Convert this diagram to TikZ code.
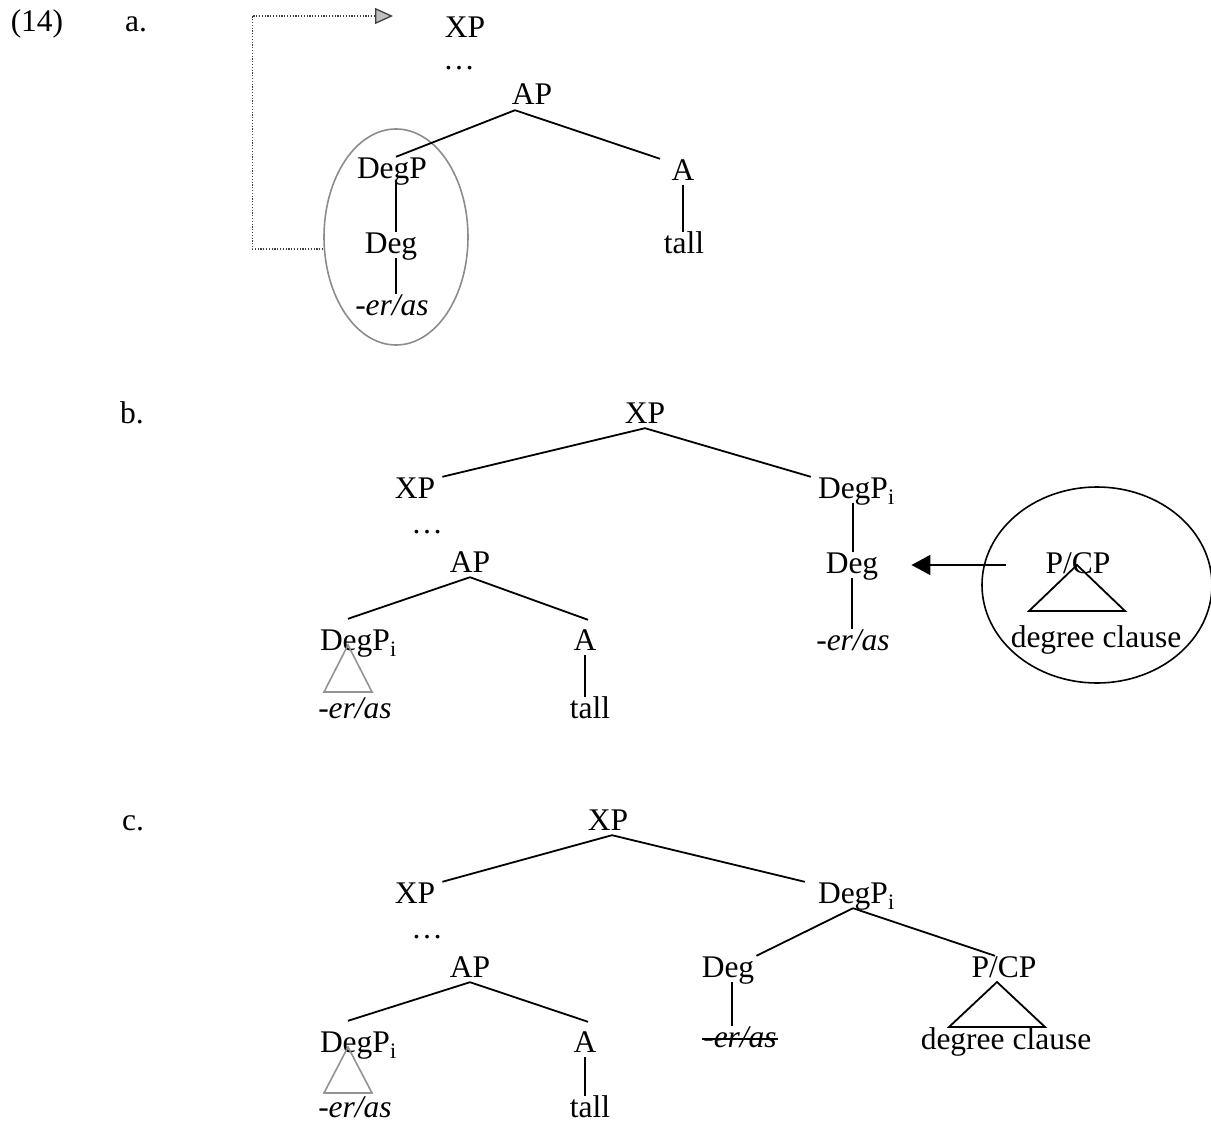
\documentclass[tikz,border=0pt]{standalone}
\usepackage{fontspec}
\setmainfont{Liberation Serif}
\usetikzlibrary{shapes.geometric,arrows.meta}
\begin{document}
\begin{tikzpicture}[x=1pt,y=-1pt,
  lab/.style={font=\fontsize{31.5}{36}\selectfont, inner xsep=1pt, inner ysep=0pt, text height=21pt, text depth=5pt, anchor=base},
  tree/.style={line width=1.8pt, black},
  gtri/.style={line width=1.6pt, draw=gray!85},
  btri/.style={line width=1.8pt, draw=black},
  dotline/.style={draw=black!75, line width=1.3pt, dash pattern=on 1.2pt off 1.6pt}
]
\useasboundingbox (0,0) rectangle (1211,1124);

% ---------------- (14) a.
\node[lab] (n14) at (37,32) {(14)};
\node[lab] (na) at (136,32) {a.};
\node[lab] (aXP) at (465,38) {XP};
\node[lab] (adots) at (459,70) {…};
\node[lab] (aAP) at (532,105) {AP};
\node[lab] (aDegP) at (392,178) {DegP};
\node[lab] (aDeg) at (391,253) {Deg};
\node[lab] (aEr) at (392,315) {-\textit{er/as}};
\node[lab] (aA) at (683,180) {A};
\node[lab] (aTall) at (684,253) {tall};
\node[draw=gray!90, line width=1.6pt, ellipse, minimum width=144pt, minimum height=216pt, inner sep=0pt] (aEll) at (396,237) {};

\draw[tree] ([xshift=-17pt]aAP.south) -- ([xshift=4pt]aDegP.north);
\draw[tree] ([xshift=-17pt]aAP.south) -- ([xshift=-23pt]aA.north);
\draw[tree] ([xshift=4pt]aDegP.south) -- ([xshift=4pt]aDegP.south |- aDeg.north);
\draw[tree] ([xshift=5pt]aDeg.south) -- ([xshift=5pt]aDeg.south |- aEr.north);
\draw[tree] (aA.south) -- (aA.south |- aTall.north);

\coordinate (aTip) at (393,16);
\draw[dotline, -{Triangle[length=18pt,width=16pt,fill=gray!50]}] ([yshift=-12pt]aEll.west) -- ++(-71,0) |- (aTip);

% ---------------- b.
\node[lab] (nb) at (132,423) {b.};
\node[lab] (bXP) at (645,423) {XP};
\node[lab] (bXPl) at (415,498) {XP};
\node[lab] (bdots) at (427,533) {…};
\node[lab] (bAP) at (470,572) {AP};
\node[lab] (bDegPl) at (355,650) {DegP\rlap{\textsubscript{i}}};
\node[lab] (bErl) at (355,718) {-\textit{er/as}};
\node[lab] (bA) at (585,650) {A};
\node[lab] (bTall) at (590,718) {tall};
\node[lab] (bDegPr) at (853,498) {DegP\rlap{\textsubscript{i}}};
\node[lab] (bDeg) at (852,573) {Deg};
\node[lab] (bErr) at (853,650) {-\textit{er/as}};
\node[lab] (bPCP) at (1078,573) {P/CP};
\node[lab] (bDC) at (1096,647) {degree clause};
\node[draw, line width=1.6pt, ellipse, minimum width=230pt, minimum height=196pt, inner sep=0pt] (bEll) at (1097,585) {};

\draw[tree] (bXP.south) -- ([xshift=6pt]bXPl.north east);
\draw[tree] (bXP.south) -- ([xshift=-6pt]bDegPr.north west);
\draw[tree] (bAP.south) -- ([shift={(-7pt,10pt)}]bDegPl.north);
\draw[tree] (bAP.south) -- ([shift={(3pt,9pt)}]bA.north);
\draw[tree] (bA.south) -- (bA.south |- bTall.north);
\draw[tree] (bDegPr.south) -- (bDegPr.south |- bDeg.north);
\draw[tree] (bDeg.south) -- (bDeg.south |- bErr.north);
\draw[gtri] ([shift={(-7pt,5pt)}]bDegPl.base) -- ++(-24,47) -- ++(48,0) -- cycle;
\draw[btri] ([shift={(-1pt,8pt)}]bPCP.base) -- ++(-48,46) -- ++(96,0) -- cycle;
\draw[tree, -{Triangle[length=19pt,width=20pt]}, shorten <=38pt, shorten >=32pt] (bPCP.west) -- (bDeg.east);

% ---------------- c.
\node[lab] (nc) at (133,830) {c.};
\node[lab] (cXP) at (608,830) {XP};
\node[lab] (cXPl) at (415,903) {XP};
\node[lab] (cdots) at (427,938) {…};
\node[lab] (cAP) at (470,977) {AP};
\node[lab] (cDegPl) at (355,1052) {DegP\rlap{\textsubscript{i}}};
\node[lab] (cErl) at (355,1117) {-\textit{er/as}};
\node[lab] (cA) at (585,1052) {A};
\node[lab] (cTall) at (590,1117) {tall};
\node[lab] (cDegPr) at (853,903) {DegP\rlap{\textsubscript{i}}};
\node[lab] (cDeg) at (728,977) {Deg};
\node[lab] (cErs) at (740,1047) {-\textit{er/as}};
\node[lab] (cPCP) at (1004,977) {P/CP};
\node[lab] (cDC) at (1006,1049) {degree clause};

\draw[tree] ([xshift=4pt]cXP.south) -- ([xshift=6pt]cXPl.north east);
\draw[tree] ([xshift=4pt]cXP.south) -- ([xshift=-12pt]cDegPr.north west);
\draw[tree] (cAP.south) -- ([shift={(-7pt,10pt)}]cDegPl.north);
\draw[tree] (cAP.south) -- ([shift={(3pt,9pt)}]cA.north);
\draw[tree] (cA.south) -- (cA.south |- cTall.north);
\draw[tree] (cDegPr.south) -- ([xshift=1pt]cDeg.north east);
\draw[tree] (cDegPr.south) -- ([xshift=-9pt]cPCP.north);
\draw[tree] ([xshift=4pt]cDeg.south) -- ([xshift=4pt]cDeg.south |- cErs.north);
\draw[line width=1.3pt] (cErs.west) -- (cErs.east);
\draw[gtri] ([shift={(-7pt,5pt)}]cDegPl.base) -- ++(-24,46) -- ++(48,0) -- cycle;
\draw[btri] ([shift={(-7pt,-5pt)}]cPCP.base) -- ++(-48,45) -- ++(96,0) -- cycle;
\end{tikzpicture}
\end{document}
